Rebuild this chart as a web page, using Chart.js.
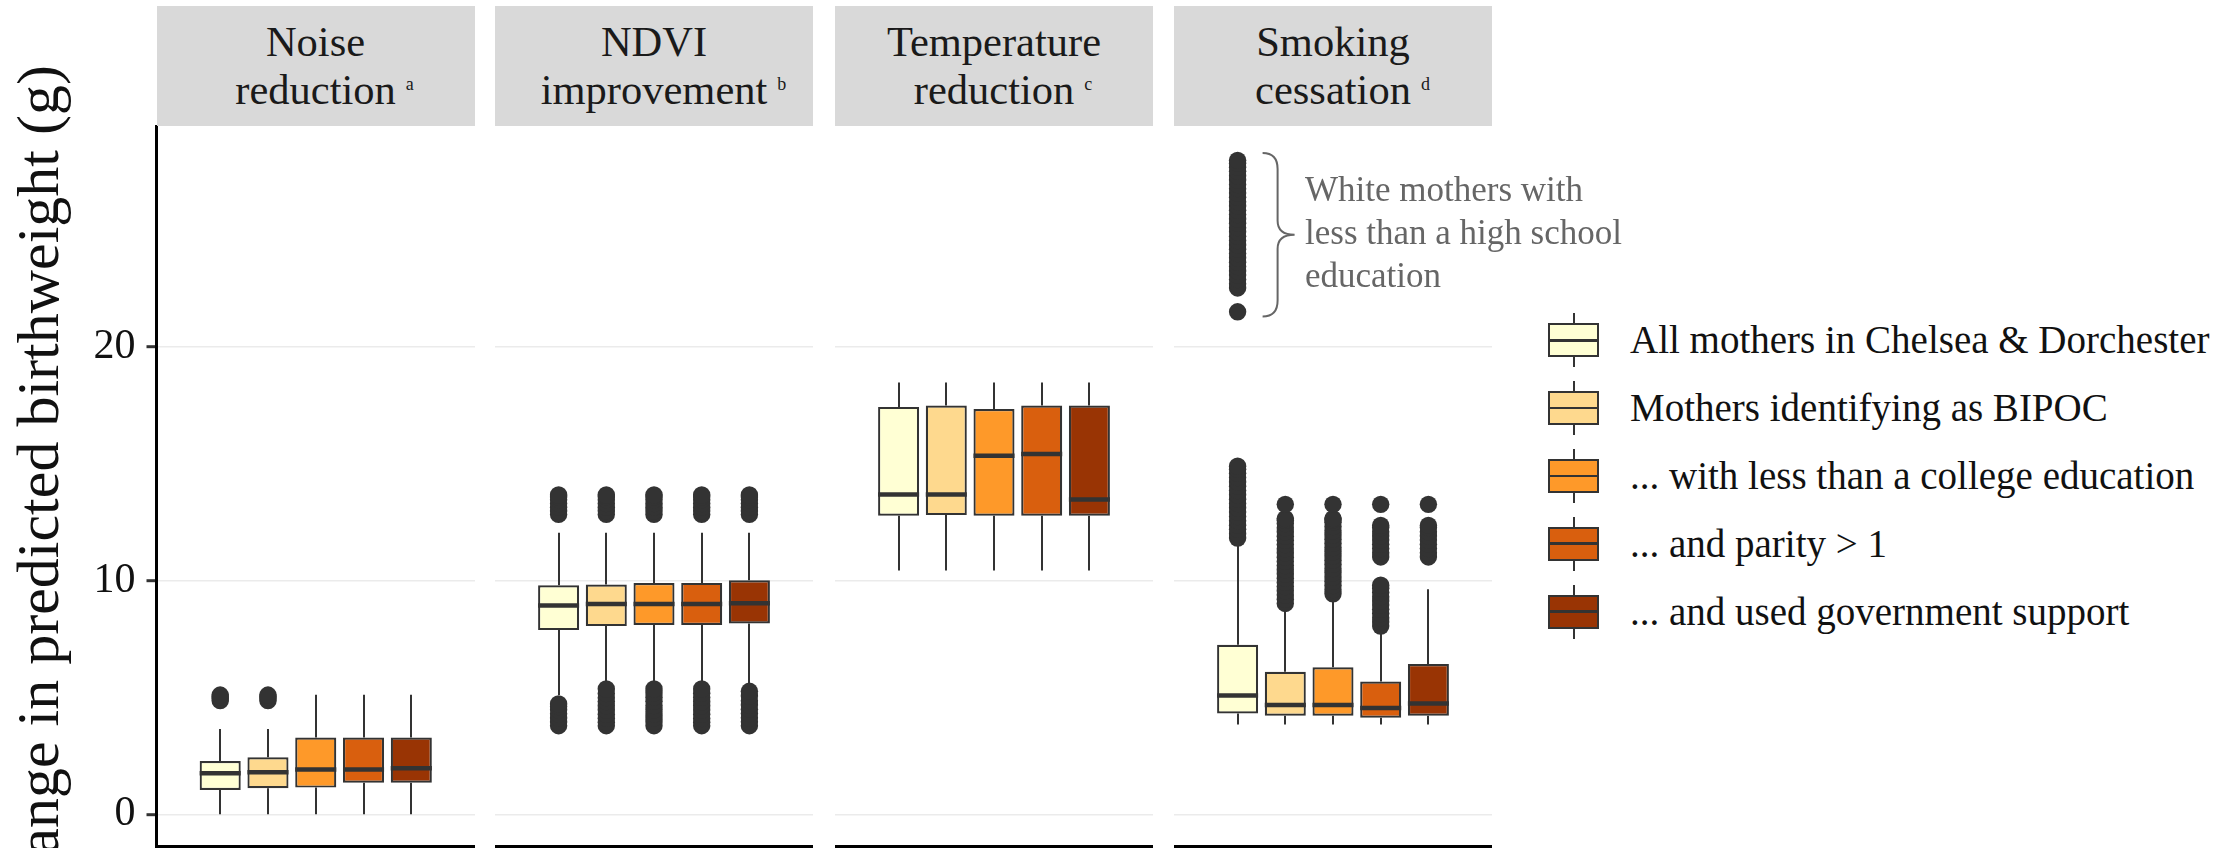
<!DOCTYPE html>
<html lang="en">
<head>
<meta charset="utf-8">
<title>Change in predicted birthweight by intervention</title>
<script src="https://cdn.jsdelivr.net/npm/chart.js@4.4.1/dist/chart.umd.min.js"></script>
<style>
  html, body { margin: 0; padding: 0; background: #ffffff; }
  body { position: relative; width: 2228px; height: 848px; overflow: hidden;
         font-family: 'Liberation Serif', 'Times New Roman', serif; color: #1a1a1a; }
  canvas { position: absolute; top: 0; }
  .strip { position: absolute; top: 6px; height: 120px; background: #d9d9d9;
           display: flex; flex-direction: column; justify-content: center; align-items: center;
           font-size: 42.5px; line-height: 48px; color: #1a1a1a; white-space: nowrap; }
  .strip .w { position: relative; display: inline-block; }
  .strip .sup { position: absolute; left: 100%; margin-left: 10px; top: 9px;
                font-size: 18px; line-height: 18px; }
  #ytitle { position: absolute; left: 0; top: 0; width: 1000px; text-align: right; white-space: nowrap;
            font-size: 60px; line-height: 60px; color: #111; transform-origin: 0 0;
            transform: translate(7.75px, 1065px) rotate(-90deg); }
  .note { position: absolute; left: 1305px; top: 168.4px; font-size: 35px; line-height: 43px;
          color: #666; white-space: nowrap; }
  .lkey { position: absolute; left: 1548px; width: 51px; height: 54px; }
  .lkey .wh { position: absolute; left: 24.5px; top: 0; width: 2px; height: 54px; background: #333; }
  .lkey .bx { position: absolute; left: 0; top: 10px; width: 51px; height: 34px;
              box-sizing: border-box; border: 2px solid #333; }
  .lkey .md { position: absolute; left: 0; top: 25.75px; width: 51px; height: 2.5px; background: #333; }
  .ltext { position: absolute; left: 1630px; font-size: 39px; line-height: 46px; color: #111; white-space: nowrap; }
</style>
</head>
<body>
<div id="ytitle">Change in predicted birthweight (g)</div>
<script>
// ---- facet and group labels ----
const panelNames = ['Noise', 'NDVI', 'Temperature', 'Smoking'];
const panelSubtitles = ['reduction', 'improvement', 'reduction', 'cessation'];
const panelNotes = ['a', 'b', 'c', 'd'];
const groupLabels = [
  'All mothers in Chelsea & Dorchester',
  'Mothers identifying as BIPOC',
  '... with less than a college education',
  '... and parity > 1',
  '... and used government support'
];
const yTicks = [0, 10, 20];

// ---- box statistics (rows: panels, columns: groups) ----
const whiskerLow = [
  [0.00, 0.00, 0.00, 0.00, 0.00],
  [5.10, 5.70, 5.70, 5.70, 5.60],
  [10.43, 10.43, 10.43, 10.43, 10.43],
  [3.84, 3.84, 3.84, 3.84, 3.84]
];
const quart1 = [
  [1.04, 1.11, 1.14, 1.35, 1.35],
  [7.88, 8.05, 8.10, 8.10, 8.16],
  [12.77, 12.80, 12.77, 12.77, 12.77],
  [4.31, 4.22, 4.22, 4.13, 4.22]
];
const medians = [
  [1.75, 1.80, 1.92, 1.92, 1.97],
  [8.93, 9.00, 9.00, 9.00, 9.03],
  [13.68, 13.68, 15.34, 15.41, 13.47],
  [5.08, 4.68, 4.68, 4.55, 4.74]
];
const quart3 = [
  [2.28, 2.44, 3.28, 3.28, 3.28],
  [9.80, 9.83, 9.89, 9.90, 10.01],
  [17.43, 17.49, 17.34, 17.49, 17.49],
  [7.25, 6.10, 6.29, 5.68, 6.43]
];
const whiskerHigh = [
  [3.65, 3.65, 5.11, 5.11, 5.11],
  [12.04, 12.04, 12.04, 12.04, 12.04],
  [18.47, 18.47, 18.47, 18.47, 18.47],
  [11.50, 8.70, 9.10, 7.75, 9.63]
];

// ---- outlying simulated values per group ----
const noiseOutliers = [
  [4.86, 4.94, 5.02, 5.10],
  [4.86, 4.94, 5.02, 5.10],
  [], [], []
];
const ndviOutliers = [
  [3.79, 3.95, 4.12, 4.30, 4.47, 4.61, 4.72, 12.83, 12.98, 13.14, 13.30, 13.46, 13.58, 13.66],
  [3.79, 3.94, 4.11, 4.28, 4.46, 4.64, 4.82, 4.99, 5.17, 5.36, 12.83, 12.98, 13.14, 13.30, 13.46, 13.58, 13.66],
  [3.79, 3.95, 4.12, 4.29, 4.47, 4.65, 4.83, 5.01, 5.19, 5.36, 12.83, 12.98, 13.14, 13.30, 13.46, 13.58, 13.66],
  [3.79, 3.94, 4.10, 4.28, 4.46, 4.64, 4.81, 5.00, 5.18, 5.36, 12.83, 12.98, 13.14, 13.30, 13.46, 13.58, 13.66],
  [3.79, 3.96, 4.13, 4.31, 4.49, 4.68, 4.86, 5.06, 5.26, 12.83, 12.98, 13.14, 13.30, 13.46, 13.58, 13.66]
];
const tempOutliers = [[], [], [], [], []];
const smokingOutliers = [
  [11.82, 12.00, 12.19, 12.37, 12.56, 12.74, 12.93, 13.11, 13.30, 13.48, 13.67, 13.85, 14.04, 14.22,
   14.41, 14.59, 14.76, 14.89, 21.50, 22.52, 22.70, 22.88, 23.07, 23.25, 23.44, 23.62, 23.81, 23.99,
   24.18, 24.36, 24.55, 24.73, 24.92, 25.10, 25.29, 25.47, 25.66, 25.84, 26.03, 26.21, 26.40, 26.58,
   26.77, 26.95, 27.14, 27.32, 27.51, 27.69, 27.86, 27.98],
  [9.02, 9.20, 9.38, 9.56, 9.74, 9.92, 10.10, 10.28, 10.46, 10.64, 10.82, 11.00, 11.18, 11.36, 11.54,
   11.72, 11.90, 12.08, 12.26, 12.44, 12.58, 12.65, 13.26],
  [9.43, 9.61, 9.79, 9.97, 10.15, 10.33, 10.51, 10.69, 10.87, 11.05, 11.23, 11.41, 11.59, 11.77, 11.95,
   12.13, 12.31, 12.49, 12.60, 12.65, 13.26],
  [8.05, 8.23, 8.41, 8.59, 8.77, 8.95, 9.13, 9.31, 9.49, 9.67, 9.80, 11.01, 11.19, 11.37, 11.55, 11.73,
   11.91, 12.09, 12.27, 12.36, 13.26],
  [11.01, 11.19, 11.37, 11.55, 11.73, 11.91, 12.09, 12.27, 12.36, 13.26]
];
const outliers = [noiseOutliers, ndviOutliers, tempOutliers, smokingOutliers];

// bracketed cluster in the smoking panel
const noteLines = ['White mothers with', 'less than a high school', 'education'];
const bracketFrom = 21.3;
const bracketTo = 28.3;

// ---- styling / layout ----
const fills = ['#ffffd4', '#fed98e', '#fe9929', '#d95f0e', '#993404'];
const INK = '#333333';
const FONT = "'Liberation Serif', 'Times New Roman', serif";
const DODGE = 0.75;      // share of the panel taken by the five dodged boxes
const BAR_PCT = 0.86;    // box width relative to its dodge slot
const Y_MIN = -1.38, Y_MAX = 29.45;
const panelLeft = [156.5, 495, 835, 1174];
const panelWidth = 318;
const axisSpace = 156.5;

// x position (panel units, -0.5 .. 0.5) of the i-th dodged group
function slotCenter(i) {
  const slot = DODGE / groupLabels.length;
  return -DODGE / 2 + slot * (i + 0.5);
}

// whiskers, medians and the bracket, placed through the chart's own scales
const boxParts = {
  id: 'boxParts',
  beforeDatasetsDraw(chart, args, opts) {
    const p = opts.panel, y = chart.scales.y, ctx = chart.ctx;
    ctx.save();
    ctx.strokeStyle = INK;
    ctx.lineWidth = 2;
    groupLabels.forEach((_, i) => {
      const bar = chart.getDatasetMeta(i).data[0];
      const x = Math.round(bar.x);
      ctx.beginPath();
      ctx.moveTo(x, y.getPixelForValue(whiskerLow[p][i]));
      ctx.lineTo(x, y.getPixelForValue(quart1[p][i]));
      ctx.moveTo(x, y.getPixelForValue(quart3[p][i]));
      ctx.lineTo(x, y.getPixelForValue(whiskerHigh[p][i]));
      ctx.stroke();
    });
    ctx.restore();
  },
  afterDatasetsDraw(chart, args, opts) {
    const p = opts.panel, y = chart.scales.y, ctx = chart.ctx;
    ctx.save();
    ctx.strokeStyle = INK;
    ctx.lineWidth = 4.5;
    groupLabels.forEach((_, i) => {
      const bar = chart.getDatasetMeta(i).data[0];
      const ym = y.getPixelForValue(medians[p][i]);
      ctx.beginPath();
      ctx.moveTo(bar.x - bar.width / 2, ym);
      ctx.lineTo(bar.x + bar.width / 2, ym);
      ctx.stroke();
    });
    if (opts.bracket) {
      const bar = chart.getDatasetMeta(0).data[0];
      const x0 = bar.x + 25, x1 = bar.x + 40, x2 = bar.x + 57;
      const top = y.getPixelForValue(bracketTo);
      const bot = y.getPixelForValue(bracketFrom);
      const mid = (top + bot) / 2;
      ctx.strokeStyle = '#666666';
      ctx.lineWidth = 2;
      ctx.beginPath();
      ctx.moveTo(x0, top);
      ctx.quadraticCurveTo(x1, top, x1, top + 16);
      ctx.lineTo(x1, mid - 14);
      ctx.quadraticCurveTo(x1, mid, x2, mid);
      ctx.quadraticCurveTo(x1, mid, x1, mid + 14);
      ctx.lineTo(x1, bot - 16);
      ctx.quadraticCurveTo(x1, bot, x0, bot);
      ctx.stroke();
    }
    ctx.restore();
  }
};

function makePanel(p) {
  const first = p === 0;
  const w = first ? Math.ceil(axisSpace + panelWidth) : panelWidth;
  const canvas = document.createElement('canvas');
  canvas.width = w;
  canvas.height = 848;
  canvas.style.left = (first ? 0 : panelLeft[p]) + 'px';
  canvas.style.width = w + 'px';
  canvas.style.height = '848px';
  document.body.appendChild(canvas);

  const bars = groupLabels.map((label, i) => ({
    type: 'bar',
    label: label,
    data: [{ x: slotCenter(i), y: [quart1[p][i], quart3[p][i]] }],
    backgroundColor: fills[i],
    borderColor: INK,
    borderWidth: 2.2,
    borderSkipped: false,
    grouped: false,
    categoryPercentage: 1,
    barPercentage: BAR_PCT,
    xAxisID: 'x',
    yAxisID: 'y',
    order: 2
  }));
  const points = [];
  outliers[p].forEach((vals, i) => vals.forEach(v => points.push({ x: slotCenter(i), y: v })));
  const dots = {
    type: 'scatter',
    label: 'outliers',
    data: points,
    xAxisID: 'x',
    yAxisID: 'y',
    pointRadius: 8.7,
    pointHoverRadius: 8.7,
    pointBackgroundColor: INK,
    pointBorderWidth: 0,
    order: 1
  };

  new Chart(canvas, {
    type: 'bar',
    data: { datasets: [...bars, dots] },
    options: {
      responsive: false,
      animation: false,
      devicePixelRatio: 1,
      events: [],
      layout: { autoPadding: false, padding: { top: 126, bottom: 1.5, left: 0, right: 0 } },
      plugins: {
        legend: { display: false },
        tooltip: { enabled: false },
        boxParts: { panel: p, bracket: p === 3 }
      },
      scales: {
        x: {
          type: 'linear',
          min: -0.5,
          max: 0.5,
          offset: false,
          grid: { display: false, drawTicks: false, offset: false },
          ticks: { display: false, stepSize: 1 },
          border: { display: true, color: '#000000', width: 3 },
          afterFit: s => { s.height = 0; s.paddingLeft = 0; s.paddingRight = 0; }
        },
        y: {
          type: 'linear',
          min: Y_MIN,
          max: Y_MAX,
          afterBuildTicks: s => { s.ticks = yTicks.map(v => ({ value: v })); },
          grid: {
            color: '#ebebeb', lineWidth: 1.4,
            drawTicks: first, tickLength: 10, tickColor: INK, tickWidth: 3
          },
          border: { display: first, color: '#000000', width: 3 },
          ticks: {
            display: first, padding: 11, color: '#111111',
            font: { family: FONT, size: 42 }
          },
          afterFit: s => {
            s.width = first ? axisSpace : 0;
            s.paddingTop = 0; s.paddingBottom = 0;
          }
        }
      }
    },
    plugins: [boxParts]
  });

  // facet strip
  const strip = document.createElement('div');
  strip.className = 'strip';
  strip.style.left = panelLeft[p] + 'px';
  strip.style.width = panelWidth + 'px';
  const l1 = document.createElement('div');
  l1.textContent = panelNames[p];
  const l2 = document.createElement('div');
  const w2 = document.createElement('span');
  w2.className = 'w';
  w2.textContent = panelSubtitles[p];
  const sup = document.createElement('span');
  sup.className = 'sup';
  sup.textContent = panelNotes[p];
  w2.appendChild(sup);
  l2.appendChild(w2);
  strip.appendChild(l1);
  strip.appendChild(l2);
  document.body.appendChild(strip);
}

panelNames.forEach((_, p) => makePanel(p));

// note beside the bracketed cluster
const note = document.createElement('div');
note.className = 'note';
noteLines.forEach((line, i) => {
  if (i) note.appendChild(document.createElement('br'));
  note.appendChild(document.createTextNode(line));
});
document.body.appendChild(note);

// legend
groupLabels.forEach((label, i) => {
  const cy = 340.3 + i * 67.8;
  const key = document.createElement('div');
  key.className = 'lkey';
  key.style.top = (cy - 27) + 'px';
  const wh = document.createElement('div'); wh.className = 'wh';
  const bx = document.createElement('div'); bx.className = 'bx'; bx.style.background = fills[i];
  const md = document.createElement('div'); md.className = 'md';
  key.appendChild(wh); key.appendChild(bx); key.appendChild(md);
  document.body.appendChild(key);
  const t = document.createElement('div');
  t.className = 'ltext';
  t.style.top = (cy - 23) + 'px';
  t.textContent = label;
  document.body.appendChild(t);
});
</script>
</body>
</html>
